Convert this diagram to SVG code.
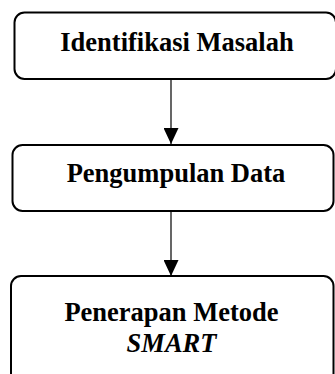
<svg xmlns="http://www.w3.org/2000/svg" width="335" height="374" viewBox="0 0 335 374">
<style>
.box{fill:#fff;stroke:#000;stroke-width:2}
.t{font-family:"Liberation Serif","Times New Roman",serif;font-weight:bold;font-size:26.5px;fill:#000;text-anchor:middle}
.i{font-style:italic}
.c{stroke:#000;stroke-width:1.2;fill:none}
</style>
<defs>
<marker id="ah" viewBox="0 0 16 15" refX="16" refY="7.5" markerWidth="16" markerHeight="15" markerUnits="userSpaceOnUse" orient="auto">
<path d="M0,0 L16,7.5 L0,15 Z" fill="#000"/>
</marker>
</defs>
<rect width="335" height="374" fill="#fff"/>
<g id="connectors">
<line class="c" x1="171" y1="79" x2="171" y2="144" marker-end="url(#ah)"/>
<line class="c" x1="171" y1="211" x2="171" y2="276" marker-end="url(#ah)"/>
</g>
<g id="node1">
<rect class="box" x="14.5" y="12.5" width="321.5" height="66.5" rx="10"/>
<text class="t" x="177" y="51">Identifikasi Masalah</text>
</g>
<g id="node2">
<rect class="box" x="12.5" y="145" width="321" height="66" rx="10"/>
<text class="t" x="176" y="181.5">Pengumpulan Data</text>
</g>
<g id="node3">
<rect class="box" x="11" y="276" width="322.5" height="120" rx="10"/>
<text class="t" x="171.5" y="320.5">Penerapan Metode</text>
<text class="t i" x="171.5" y="351.5">SMART</text>
</g>
</svg>
